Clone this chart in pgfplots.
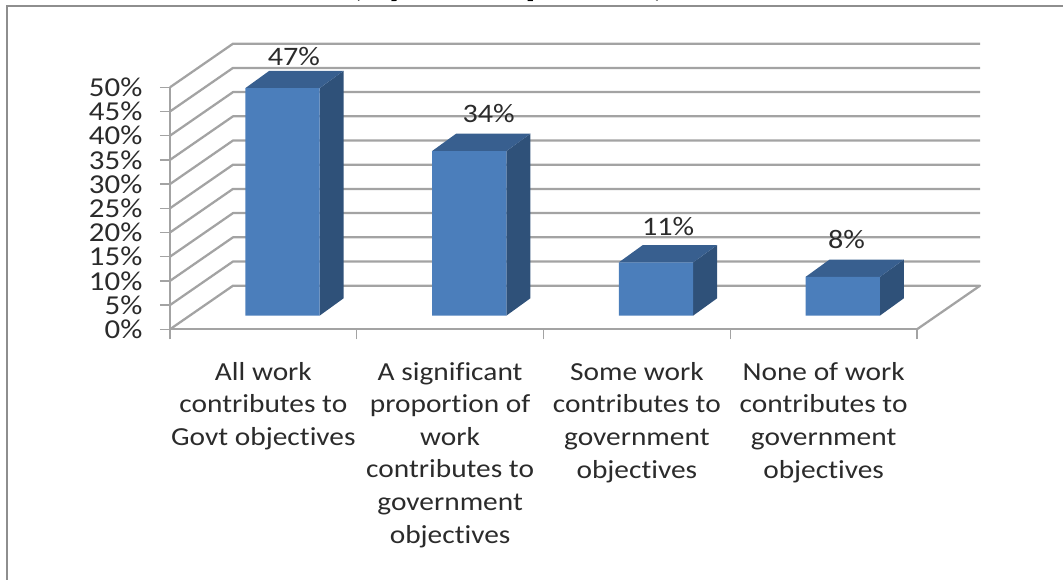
\documentclass[border=0pt]{standalone}
\usepackage{pgfplots}
\pgfplotsset{compat=1.18}
\usepackage{pgfplotstable}
\usepackage{fontspec}
\setmainfont[FakeStretch=1.13,Ligatures=NoCommon]{Carlito}
\definecolor{gridgray}{HTML}{A3A3A3}
\definecolor{framegray}{HTML}{8E8E8E}
\definecolor{barfront}{HTML}{4B7EBB}
\definecolor{bartop}{HTML}{385F8F}
\definecolor{barside}{HTML}{2F5179}
\definecolor{labelink}{HTML}{2B2B2B}

% idx: category position; val: share in percent; lx, ly: placement of the value label
\pgfplotstableread{
idx val lx   ly
0   47  0.663 6.5
1   34  1.706 7.8
2   11  2.667 7.5
3   8   3.623 7.7
}\sharetable

\pgfplotsset{
  wall/.style={draw=gridgray, line width=1.7pt, line join=round},
  raised/.style={yshift=10.2pt},
  front/.style={ybar, fill=barfront, draw=none, bar width=55.7pt, raised, bar shift=0pt},
  topface/.style={fill=bartop, draw=none, raised},
  sideface/.style={fill=barside, draw=none, raised},
}

\begin{document}
\begin{tikzpicture}
\useasboundingbox (0,0) rectangle (797.25pt,434.25pt);
\clip (0,0) rectangle (797.25pt,434.25pt);

% Chart frame and the chart title running off the top edge
\draw[framegray, line width=1.5pt] (5.4pt,-2pt) -- (5.4pt,429.6pt) -- (800pt,429.6pt);
\node[anchor=base, font=\fontsize{29}{34}\selectfont\bfseries, text=black, inner sep=0pt]
  at (381pt,437.4pt) {(by all responses)};

\begin{axis}[
  at={(127.5pt,187.3pt)}, anchor=south west,
  scale only axis, width=560.25pt, height=181.5pt,
  xmin=0, xmax=4, ymin=0, ymax=50,
  clip=false,
  axis x line*=bottom, axis y line*=left,
  axis line style={draw=gridgray, line width=1.7pt, -},
  tick align=outside,
  major tick length=7.5pt,
  tick style={draw=gridgray, line width=1.1pt},
  xtick={0,1,2,3,4}, xticklabels={},
  extra x ticks={0.5,1.5,2.5,3.5},
  extra x tick style={major tick length=0pt, tick style={draw=none}},
  extra x tick labels={
    {All work\\contributes to\\Govt objectives},
    {A significant\\proportion of\\work\\contributes to\\government\\objectives},
    {Some work\\contributes to\\government\\objectives},
    {None of work\\contributes to\\government\\objectives}},
  x tick label style={align=center, anchor=north, yshift=-21.2pt, text=labelink,
    font=\fontsize{19.5}{24.45}\selectfont},
  ytick={0,5,10,15,20,25,30,35,40,45,50},
  yticklabels={0\%,5\%,10\%,15\%,20\%,25\%,30\%,35\%,40\%,45\%,50\%},
  y tick label style={anchor=east, xshift=-9.7pt, text=labelink, inner ysep=0pt,
    font=\fontsize{20.5}{24}\selectfont},
]
% Side wall, back wall and floor grid
\addplot[wall] coordinates {(0,0) (0.3373,9) (4.3373,9) (4,0)};
\addplot[wall] coordinates {(0,5) (0.3373,14) (4.3373,14)};
\addplot[wall] coordinates {(0,10) (0.3373,19) (4.3373,19)};
\addplot[wall] coordinates {(0,15) (0.3373,24) (4.3373,24)};
\addplot[wall] coordinates {(0,20) (0.3373,29) (4.3373,29)};
\addplot[wall] coordinates {(0,25) (0.3373,34) (4.3373,34)};
\addplot[wall] coordinates {(0,30) (0.3373,39) (4.3373,39)};
\addplot[wall] coordinates {(0,35) (0.3373,44) (4.3373,44)};
\addplot[wall] coordinates {(0,40) (0.3373,49) (4.3373,49)};
\addplot[wall] coordinates {(0,45) (0.3373,54) (4.3373,54)};
\addplot[wall] coordinates {(0,50) (0.3373,59) (4.3373,59)};

% Bars: side and top faces, then the front face from the share itself
\addplot[sideface] coordinates {(0.801,0) (0.930,3.6) (0.930,50.6) (0.801,47)} -- cycle;
\addplot[topface]  coordinates {(0.403,47) (0.801,47) (0.930,50.6) (0.532,50.6)} -- cycle;
\addplot[sideface] coordinates {(1.801,0) (1.930,3.6) (1.930,37.6) (1.801,34)} -- cycle;
\addplot[topface]  coordinates {(1.403,34) (1.801,34) (1.930,37.6) (1.532,37.6)} -- cycle;
\addplot[sideface] coordinates {(2.801,0) (2.930,3.6) (2.930,14.6) (2.801,11)} -- cycle;
\addplot[topface]  coordinates {(2.403,11) (2.801,11) (2.930,14.6) (2.532,14.6)} -- cycle;
\addplot[sideface] coordinates {(3.801,0) (3.930,3.6) (3.930,11.6) (3.801,8)} -- cycle;
\addplot[topface]  coordinates {(3.403,8) (3.801,8) (3.930,11.6) (3.532,11.6)} -- cycle;
\addplot[front] table[x expr=\thisrow{idx}+0.602, y=val] {\sharetable};

% Value labels above the bars
\addplot[draw=none, mark=none, point meta=explicit,
  nodes near coords={\pgfmathprintnumber[assume math mode=true]{\pgfplotspointmeta}\%},
  every node near coord/.append style={anchor=center, text=labelink, inner sep=0pt,
    font=\fontsize{20}{24}\selectfont}]
  table[x=lx, y expr=\thisrow{val}+2.8+\thisrow{ly}, meta=val] {\sharetable};
\end{axis}
\end{tikzpicture}
\end{document}
